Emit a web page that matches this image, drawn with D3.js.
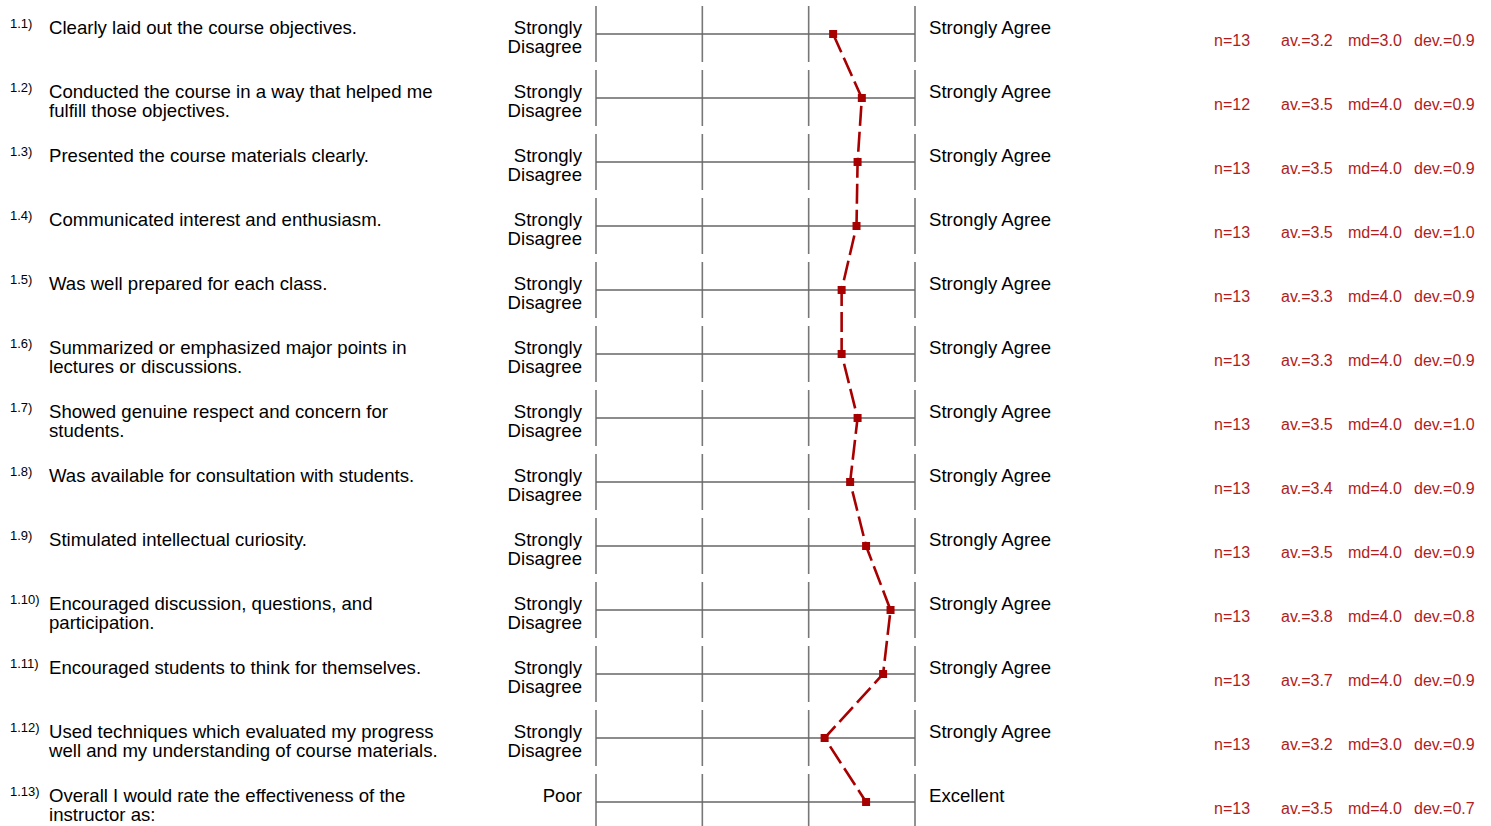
<!DOCTYPE html>
<html><head><meta charset="utf-8">
<script src="https://cdn.jsdelivr.net/npm/d3@7"></script>
<style>
html,body{margin:0;padding:0;background:#fff;}
svg{display:block;font-family:"Liberation Sans",Arial,sans-serif;}
</style></head>
<body>
<script>
const ids = ["1.1)","1.2)","1.3)","1.4)","1.5)","1.6)","1.7)","1.8)","1.9)","1.10)","1.11)","1.12)","1.13)"];
const questions = [
  ["Clearly laid out the course objectives."],
  ["Conducted the course in a way that helped me","fulfill those objectives."],
  ["Presented the course materials clearly."],
  ["Communicated interest and enthusiasm."],
  ["Was well prepared for each class."],
  ["Summarized or emphasized major points in","lectures or discussions."],
  ["Showed genuine respect and concern for","students."],
  ["Was available for consultation with students."],
  ["Stimulated intellectual curiosity."],
  ["Encouraged discussion, questions, and","participation."],
  ["Encouraged students to think for themselves."],
  ["Used techniques which evaluated my progress","well and my understanding of course materials."],
  ["Overall I would rate the effectiveness of the","instructor as:"]
];
const leftLabels = [
  ["Strongly","Disagree"],["Strongly","Disagree"],["Strongly","Disagree"],["Strongly","Disagree"],
  ["Strongly","Disagree"],["Strongly","Disagree"],["Strongly","Disagree"],["Strongly","Disagree"],
  ["Strongly","Disagree"],["Strongly","Disagree"],["Strongly","Disagree"],["Strongly","Disagree"],["Poor"]
];
const rightLabels = ["Strongly Agree","Strongly Agree","Strongly Agree","Strongly Agree","Strongly Agree","Strongly Agree","Strongly Agree","Strongly Agree","Strongly Agree","Strongly Agree","Strongly Agree","Strongly Agree","Excellent"];
const means = [3.23,3.50,3.46,3.45,3.31,3.31,3.46,3.39,3.54,3.77,3.70,3.15,3.54];
const nVals = [13,12,13,13,13,13,13,13,13,13,13,13,13];
const avVals = ["3.2","3.5","3.5","3.5","3.3","3.3","3.5","3.4","3.5","3.8","3.7","3.2","3.5"];
const mdVals = ["3.0","4.0","4.0","4.0","4.0","4.0","4.0","4.0","4.0","4.0","4.0","3.0","4.0"];
const devVals = ["0.9","0.9","0.9","1.0","0.9","0.9","1.0","0.9","0.9","0.8","0.9","0.9","0.7"];
const scaleTicks = [1,2,3,4];

const W = 1491, H = 826;
const svg = d3.select("body").append("svg").attr("width", W).attr("height", H);

const x = d3.scaleLinear().domain([1,4]).range([596, 915]);
const y = d3.scaleLinear().domain([0,12]).range([34, 802]);

const rowsG = svg.selectAll("g.row").data(ids).join("g").attr("class","row")
  .attr("transform",(d,i)=>`translate(0,${y(i)})`);

rowsG.selectAll("line.v").data(scaleTicks).join("line").attr("class","v")
  .attr("x1",d=>x(d)).attr("x2",d=>x(d)).attr("y1",-28).attr("y2",28)
  .attr("stroke","#777").attr("stroke-width",1.6);
rowsG.append("line").attr("x1",x(1)).attr("x2",x(4)).attr("y1",0).attr("y2",0)
  .attr("stroke","#666").attr("stroke-width",1.5);

rowsG.append("text").attr("x",10).attr("y",-6).attr("font-size",13).attr("fill","#000").text(d=>d);
rowsG.each(function(d,i){
  const g = d3.select(this);
  questions[i].forEach((line,k)=>{
    g.append("text").attr("x",49).attr("y",k*19).attr("font-size",18.6).attr("fill","#000").text(line);
  });
  leftLabels[i].forEach((line,k)=>{
    g.append("text").attr("x",582).attr("y",k*19).attr("font-size",18.6).attr("fill","#000")
      .attr("text-anchor","end").text(line);
  });
  g.append("text").attr("x",929).attr("y",0).attr("font-size",18.6).attr("fill","#000").text(rightLabels[i]);
  const stats = [[1214,"n="+nVals[i]],[1281,"av.="+avVals[i]],[1348,"md="+mdVals[i]],[1414,"dev.="+devVals[i]]];
  stats.forEach(s=>{
    g.append("text").attr("x",s[0]).attr("y",12).attr("font-size",16).attr("fill","#b01c1c").text(s[1]);
  });
});

const line = d3.line().x(d=>x(d[0])).y(d=>y(d[1]));
svg.append("path").datum(means.map((m,i)=>[m,i])).attr("d",line)
  .attr("fill","none").attr("stroke","#a80000").attr("stroke-width",2.6)
  .attr("stroke-dasharray","20,6");
svg.selectAll("rect.mk").data(means).join("rect").attr("class","mk")
  .attr("x",(d)=>x(d)-4).attr("y",(d,i)=>y(i)-4).attr("width",8).attr("height",8)
  .attr("fill","#a80000");
</script>
</body></html>
